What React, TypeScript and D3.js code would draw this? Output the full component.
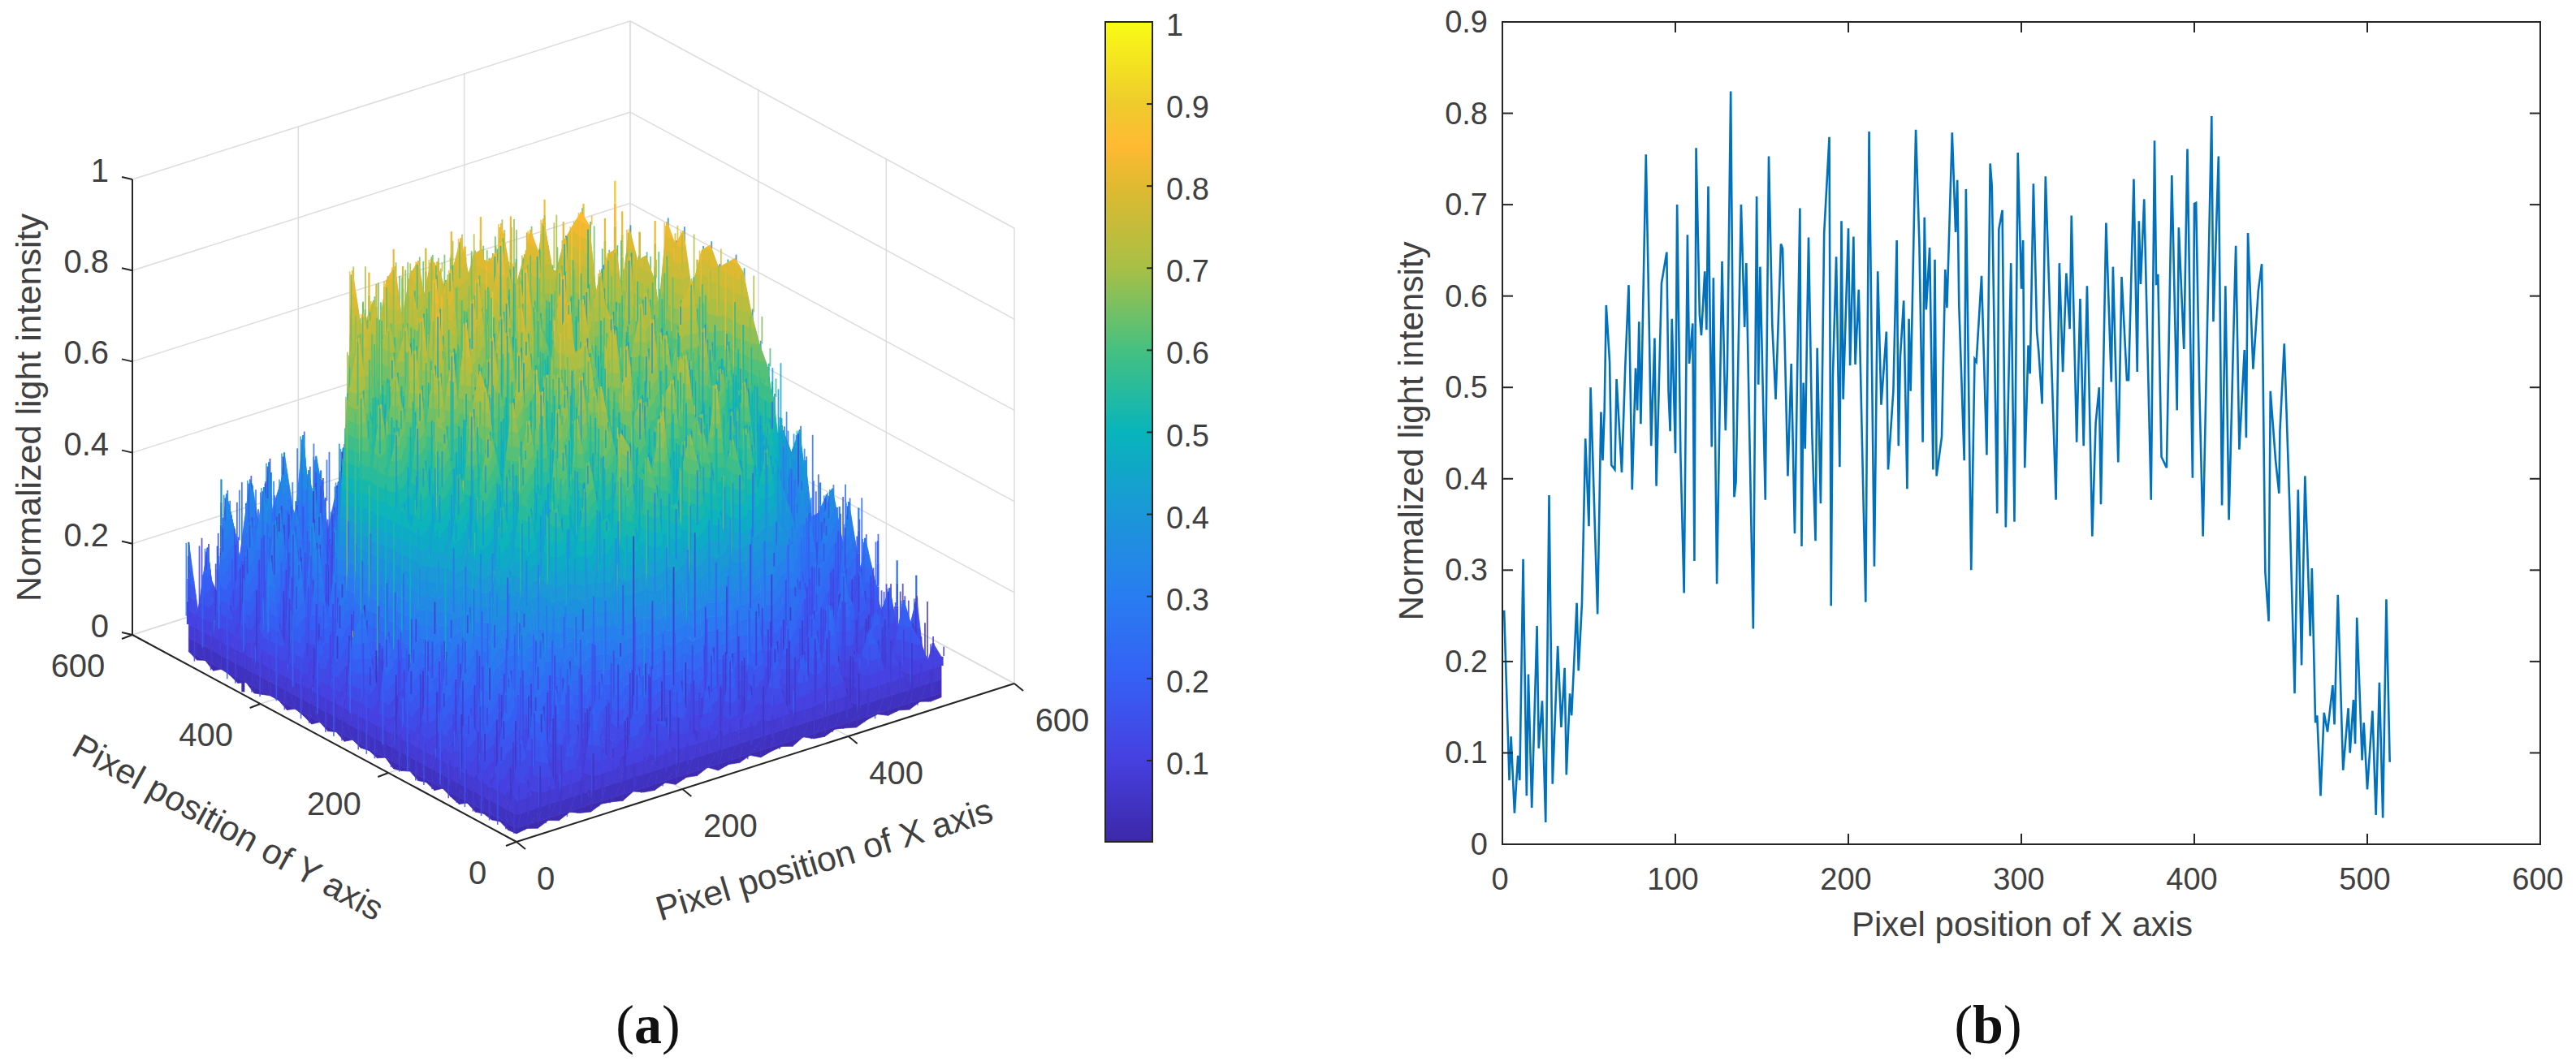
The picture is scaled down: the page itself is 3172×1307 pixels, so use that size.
import React, { useEffect, useRef } from "react";
import * as d3 from "d3";

// (b) line profile, vertices
const lineX = [1,4,5,7,9,10,12,14,15,17,20,21,23,25,27,29,32,34,36,37,39,40,43,44,46,48,50,51,55,57,58,59,60,62,63,65,66,69,71,73,75,77,78,79,80,83,85,86,88,89,91,92,95,96,97,98,100,
  101,103,105,107,108,110,111,112,114,115,117,118,119,121,122,124,127,129,130,132,134,135,138,140,141,142,145,147,148,149,152,154,156,158,161,162,165,167,169,172,173,174,175,177,179,181,182,184,186,189,190,191,193,195,196,197,200,
  201,203,204,206,210,212,215,217,219,222,223,226,228,229,230,232,234,235,236,239,241,243,244,245,247,249,250,251,254,256,257,260,262,263,264,267,268,271,273,274,277,280,282,283,286,287,289,291,294,296,298,300,
  301,302,304,305,307,309,310,312,314,320,322,324,326,328,329,332,334,336,338,341,343,345,346,349,352,353,356,358,361,362,365,367,368,369,371,375,377,378,379,381,384,387,390,391,394,396,399,400,
  401,403,405,410,411,414,416,418,420,423,424,426,429,430,431,434,437,439,441,443,444,447,449,449.5,452,455,458,460,462,464,467,468,470,471,473,475,477,480,481,483,486,489,490,492,493,494,497,498,500,503,505,507,509,511,513];
const lineY = [.256,.07,.118,.034,.097,.07,.312,.053,.186,.04,.239,.105,.157,.024,.382,.066,.217,.128,.193,.076,.165,.141,.264,.19,.264,.444,.348,.5,.252,.473,.42,.475,.59,.528,.415,.41,.509,.407,.522,.612,.388,.521,.475,.572,.46,.755,.551,.436,.554,.392,.538,.614,.648,.496,.452,.575,.428,
  .7,.426,.275,.667,.526,.57,.31,.762,.58,.557,.627,.563,.72,.435,.62,.285,.638,.453,.52,.824,.38,.396,.7,.566,.636,.533,.236,.709,.503,.632,.377,.753,.568,.487,.657,.652,.403,.526,.34,.696,.326,.505,.433,.664,.45,.332,.543,.373,.669,.774,.261,.51,.643,.413,.682,.487,.674,
  .524,.665,.525,.607,.265,.78,.304,.627,.481,.561,.41,.496,.661,.436,.533,.595,.389,.575,.496,.782,.66,.44,.686,.585,.653,.41,.64,.403,.446,.629,.587,.779,.67,.727,.589,.42,.717,.3,.531,.528,.622,.426,.745,.72,.362,.673,.694,.347,.636,.353,.757,.608,
  .661,.412,.546,.515,.723,.561,.54,.482,.731,.377,.636,.517,.625,.564,.688,.44,.597,.436,.611,.337,.461,.5,.372,.68,.506,.632,.418,.621,.508,.508,.728,.517,.682,.613,.706,.377,.77,.612,.624,.424,.412,.732,.475,.675,.542,.761,.401,.701,
  .702,.494,.337,.797,.572,.753,.371,.611,.355,.583,.655,.432,.541,.445,.669,.52,.606,.635,.298,.244,.496,.42,.384,.452,.548,.376,.165,.388,.196,.403,.228,.302,.133,.141,.053,.144,.123,.174,.131,.273,.081,.149,.1,.158,.11,.248,.092,.133,.06,.146,.032,.177,.029,.268,.09];

const lineXTicks = [0,100,200,300,400,500,600];
const lineYTicks = [0,.1,.2,.3,.4,.5,.6,.7,.8,.9];
const surfaceTicks = [0,200,400,600];
const zTicks = [0,.2,.4,.6,.8,1];
const colorbarTicks = [.1,.2,.3,.4,.5,.6,.7,.8,.9,1];

// colormap stops
const colorStops = [0,.1,.2,.3,.4,.5,.6,.7,.8,.85,.9,1];
const colorValues = ["#3c28a8","#4640e0","#3560f5","#287df0","#1b97d8","#08b5bb","#45c080","#a8bf45","#e0ba30","#ffba32","#eecb2c","#f9fb15"];

// (a) surface, heights in percent, estimated on a 41x41 grid: front row first, y = row * 12.8, x = col * 12.8
const surfaceRows = [
[8,12,5,15,7,18,9,4,14,11,6,19,10,7,16,5,13,9,20,6,12,8,17,5,11,14,7,21,9,6,15,10,4,13,18,8,12,6,16,9,11],
[6,14,9,20,5,11,16,8,22,7,13,4,18,10,15,6,21,12,7,17,9,24,5,14,11,19,6,13,8,23,10,16,5,12,20,7,15,9,18,4,13],
[15,7,19,10,24,6,13,17,5,21,9,14,8,26,11,4,16,20,7,12,25,6,15,10,18,8,22,5,13,17,9,27,11,6,14,19,7,12,23,10,6],
[9,18,6,13,22,8,26,11,16,6,20,12,28,7,15,23,9,18,5,27,13,10,21,7,16,30,8,14,24,6,19,11,25,9,13,5,20,16,8,12,21],
[13,5,22,16,7,25,10,19,29,8,14,24,11,31,17,6,38,30,44,28,50,33,42,36,30,28,10,18,6,27,14,23,8,17,30,11,6,19,14,7,10],
[7,19,11,26,14,8,30,16,9,25,33,12,21,35,42,52,38,60,40,55,36,62,44,50,38,58,42,23,34,13,26,10,21,15,7,24,18,9,13,22,8],
[17,9,23,6,28,12,20,34,11,29,18,38,40,52,36,60,44,66,38,54,46,68,42,58,36,64,48,56,40,37,19,28,14,25,10,18,7,26,11,16,12],
[5,21,12,30,9,18,35,14,27,39,36,48,62,38,54,44,68,42,58,72,46,60,40,66,50,56,38,64,48,58,42,36,24,12,29,9,22,14,8,20,10],
[11,16,7,24,31,15,22,38,29,40,58,46,38,66,52,44,70,40,60,50,72,46,64,42,58,74,50,38,62,44,54,36,33,26,15,27,16,24,13,30,19],
[20,8,26,13,19,36,28,16,48,38,56,36,52,42,62,48,40,64,46,54,38,62,50,42,66,44,54,58,36,50,40,48,38,37,22,13,31,14,33,15,24],
[6,23,14,33,10,27,41,44,36,56,42,50,62,44,54,38,64,48,42,58,50,66,40,56,46,60,36,52,64,42,56,40,50,42,34,18,26,33,16,36,21],
[14,10,28,8,37,18,30,50,42,60,46,38,56,66,42,58,50,68,52,44,62,40,66,50,56,38,64,46,58,42,68,40,54,46,28,36,34,14,38,18,26],
[8,25,16,30,12,22,48,38,56,44,64,50,40,62,48,70,54,42,66,56,50,70,44,58,72,48,62,42,68,52,46,64,40,56,44,15,38,22,13,37,24],
[19,6,21,11,34,26,44,58,42,50,38,66,56,46,72,50,62,42,74,54,46,64,58,40,68,52,75,56,44,64,42,60,50,40,52,23,24,40,18,30,13],
[10,24,13,29,7,48,42,50,64,40,60,48,70,52,44,66,56,76,48,62,40,72,54,66,44,60,52,70,42,58,68,48,62,46,50,58,36,15,42,20,33],
[5,17,27,9,36,44,52,38,56,68,48,42,62,56,74,44,68,50,60,70,54,46,78,42,64,56,48,72,60,50,44,66,46,58,42,62,40,20,34,12,28],
[22,11,6,32,42,50,38,60,46,40,66,54,72,46,62,52,48,71,42,66,58,50,60,73,46,68,42,56,64,46,75,40,62,52,48,58,62,44,20,46,26],
[9,28,15,12,50,44,56,42,52,71,44,62,50,68,42,76,56,62,50,46,75,58,44,66,54,48,79,50,60,42,58,70,46,68,44,54,66,42,26,40,32],
[16,7,24,21,48,56,42,64,44,56,48,74,54,42,70,50,60,46,72,60,42,68,52,78,46,64,58,42,73,54,48,64,55,46,60,52,72,36,22,44,24],
[12,20,9,16,52,40,60,44,66,48,42,60,70,46,54,78,44,66,50,56,71,48,62,42,76,50,56,69,46,60,72,44,58,66,42,56,80,46,22,42,28],
[25,31,3,17,50,41,52,39,67,58,44,64,75,53,45,51,61,45,53,69,63,72,74,36,72,38,44,37,62,71,41,76,80,58,60,48,82,30,38,16,27],
[7,15,22,11,56,66,50,66,48,75,55,46,66,52,80,48,62,73,50,68,46,79,55,62,48,72,44,66,77,52,58,46,70,54,64,68,80,48,34,18,30],
[18,5,13,26,60,50,64,52,72,46,64,78,50,68,44,74,56,50,76,54,64,47,81,52,69,58,75,46,60,72,46,67,50,73,56,70,78,28,40,21,18],
[10,23,8,19,54,70,46,68,48,58,74,48,60,82,54,64,44,77,58,70,52,63,74,45,79,50,60,70,54,48,76,62,46,58,72,56,82,34,16,38,25],
[21,12,28,7,72,52,64,46,62,78,52,68,46,64,76,50,71,56,48,80,60,52,67,84,55,64,46,74,58,68,46,72,55,62,76,72,80,38,14,27,16],
[6,18,14,31,20,60,56,58,72,48,66,55,83,50,60,72,46,66,78,54,72,60,48,74,62,46,78,52,65,56,82,50,68,58,78,84,38,17,33,11,30],
[15,9,26,11,24,66,58,50,62,50,76,46,65,72,54,50,82,61,52,70,47,85,64,54,76,58,48,70,79,48,62,56,46,74,60,80,24,35,13,28,18],
[24,13,6,20,34,68,80,62,50,68,46,60,80,52,70,62,46,75,63,56,78,52,66,72,48,81,62,52,58,73,52,66,55,78,60,84,35,18,26,12,34],
[8,29,16,35,12,27,60,64,58,44,72,54,62,50,86,56,69,52,83,60,68,50,79,55,67,60,75,50,70,46,60,80,56,76,62,40,15,30,37,20,14],
[19,11,32,9,24,18,36,66,82,62,48,68,76,58,66,50,80,60,64,74,54,88,60,50,72,55,65,84,52,62,50,78,62,82,36,22,33,9,25,31,17],
[33,7,21,14,38,10,26,50,64,76,60,46,64,56,74,64,52,84,56,70,62,77,52,81,58,68,52,62,70,56,84,60,72,66,16,30,12,36,21,11,27],
[13,27,10,36,17,28,8,34,55,68,78,58,74,62,54,70,60,78,64,58,72,58,83,56,66,62,80,52,74,58,86,64,72,28,34,10,24,18,33,14,22],
[6,22,38,12,29,15,31,11,26,70,62,76,70,56,66,78,56,74,62,68,66,54,80,62,76,58,84,66,74,60,82,70,31,18,8,27,16,38,12,24,30],
[26,11,18,33,7,24,13,35,16,9,86,70,78,62,84,66,72,58,82,68,76,64,80,62,86,68,74,60,84,70,78,24,18,34,13,30,9,19,34,15,12],
[9,30,14,24,37,10,28,19,6,33,14,26,72,66,80,62,74,82,66,78,70,84,72,80,64,82,68,76,70,13,21,36,10,16,28,8,24,36,13,26,21],
[17,8,35,13,21,31,6,25,38,12,22,8,29,15,60,74,66,78,62,80,64,76,70,78,66,74,62,9,20,36,15,6,24,31,11,20,39,13,29,9,16],
[28,15,10,26,40,9,19,33,11,27,6,36,17,24,7,31,50,62,52,70,58,72,55,64,50,37,12,28,17,10,33,21,14,8,38,25,12,30,16,23,8],
[7,33,19,8,16,35,12,24,7,39,18,10,30,6,37,15,26,8,32,20,6,38,14,25,9,17,32,11,27,39,7,22,33,13,20,8,30,15,6,34,16],
[22,12,38,27,9,18,42,8,30,15,25,34,9,40,20,12,35,24,7,36,16,28,10,41,19,30,6,36,13,20,26,9,37,16,28,11,25,7,32,10,19],
[11,26,6,34,21,38,14,29,36,10,44,17,28,6,33,38,9,22,43,13,30,37,18,8,34,12,26,38,21,7,35,15,24,8,31,18,36,9,21,29,6],
[27,9,18,12,30,7,35,20,11,40,24,8,37,19,29,12,42,16,26,34,9,39,21,31,13,36,6,24,33,17,10,28,38,14,22,7,30,18,11,26,20],
];
const surfaceStep = 12.8;
const bandStep = 0.03;

// thin spikes standing on the silhouette of the surface, read along the rim and the outer edge
const spikeX = [86,96,106,121,136,151,166,181,196,211,226,241,256,271,286,301,316,331,346,361,376,391,406,412,416,426,434,441,446,450,453,454,454,454,452,448,444,438,
  30,60,90,120,150,180,10,10,505,505,505,505,505,505,505,505,505,505];
const spikeY = [366,386,396,406,416,426,434,441,446,451,453,454,454,453,451,446,442,438,432,424,414,402,388,380,374,360,346,331,316,301,286,271,256,236,216,196,176,156,
  500,500,500,500,500,500,480,440,300,270,240,210,180,150,120,90,60,30];
const spikeZ = [.66,.68,.72,.78,.79,.84,.8,.78,.85,.8,.76,.82,.78,.84,.8,.86,.79,.85,.81,.88,.83,.87,.84,.925,.86,.82,.85,.8,.83,.79,.82,.76,.78,.72,.7,.66,.62,.56,
  .4,.33,.38,.3,.35,.28,.28,.24,.42,.38,.44,.4,.36,.33,.35,.3,.28,.27];

const sans = "'Liberation Sans', Arial, sans-serif";
const serif = "'Liberation Serif', serif";
const textGray = "#404040";
const axisDark = "#262626";
const gridGray = "#dcdcdc";

type V3 = [number, number, number];

// keep the part of a polygon on one side of a height level
function clipZ(poly: V3[], level: number, keepAbove: boolean): V3[] {
  const out: V3[] = [];
  poly.forEach((p, k) => {
    const q = poly[(k + 1) % poly.length];
    const pIn = keepAbove ? p[2] >= level : p[2] <= level;
    const qIn = keepAbove ? q[2] >= level : q[2] <= level;
    if (pIn) out.push(p);
    if (pIn !== qIn) {
      const t = (level - p[2]) / (q[2] - p[2]);
      out.push([p[0] + t * (q[0] - p[0]), p[1] + t * (q[1] - p[1]), level]);
    }
  });
  return out;
}

export default function App() {
  const ref = useRef<SVGSVGElement>(null);

  useEffect(() => {
    const svg = d3.select(ref.current);
    svg.selectAll("*").remove();

    const defs = svg.append("defs");
    defs.append("filter").attr("id", "soft").append("feGaussianBlur").attr("stdDeviation", 0.7);

    const color = d3.scaleLinear<string>().domain(colorStops).range(colorValues).clamp(true);

    const label = (x: number, y: number, text: string, size: number, anchor = "middle", rotate = 0) =>
      svg
        .append("text")
        .attr("transform", `translate(${x},${y}) rotate(${rotate})`)
        .attr("text-anchor", anchor)
        .attr("font-family", sans)
        .attr("font-size", size)
        .attr("fill", textGray)
        .text(text);

    const panelTag = (x: number, y: number, letter: string) => {
      const t = svg
        .append("text")
        .attr("x", x)
        .attr("y", y)
        .attr("text-anchor", "middle")
        .attr("font-family", serif)
        .attr("font-size", 68)
        .attr("fill", "#111");
      t.append("tspan").text("(");
      t.append("tspan").attr("font-weight", "bold").text(letter);
      t.append("tspan").text(")");
    };

    // ---- (a) 3D surface ----
    const originX = 636;
    const originY = 1037;
    const xToPx = d3.scaleLinear().domain([0, 600]).range([0, 613]);
    const xToPy = d3.scaleLinear().domain([0, 600]).range([0, -195]);
    const yToPx = d3.scaleLinear().domain([0, 600]).range([0, -473]);
    const yToPy = d3.scaleLinear().domain([0, 600]).range([0, -255]);
    const zToPy = d3.scaleLinear().domain([0, 1]).range([0, -561]);
    const project = (x: number, y: number, z: number): [number, number] => [
      originX + xToPx(x) + yToPx(y),
      originY + xToPy(x) + yToPy(y) + zToPy(z),
    ];

    const seg = (g: any, a: [number, number], b: [number, number], stroke: string, width: number) =>
      g
        .append("line")
        .attr("x1", a[0])
        .attr("y1", a[1])
        .attr("x2", b[0])
        .attr("y2", b[1])
        .attr("stroke", stroke)
        .attr("stroke-width", width);

    // box grid on floor and back walls
    const grid = svg.append("g");
    zTicks.forEach((z) => {
      seg(grid, project(0, 600, z), project(600, 600, z), gridGray, 1.5);
      seg(grid, project(600, 600, z), project(600, 0, z), gridGray, 1.5);
    });
    surfaceTicks.forEach((t) => {
      seg(grid, project(t, 600, 0), project(t, 600, 1), gridGray, 1.5);
      seg(grid, project(600, t, 0), project(600, t, 1), gridGray, 1.5);
      seg(grid, project(t, 0, 0), project(t, 600, 0), gridGray, 1.5);
      seg(grid, project(0, t, 0), project(600, t, 0), gridGray, 1.5);
    });

    // axes lines
    const axes = svg.append("g");
    seg(axes, project(0, 0, 0), project(600, 0, 0), axisDark, 2);
    seg(axes, project(0, 0, 0), project(0, 600, 0), axisDark, 2);
    seg(axes, project(0, 600, 0), project(0, 600, 1), axisDark, 2);
    surfaceTicks.forEach((t) => {
      const a = project(t, 0, 0);
      const b = project(0, t, 0);
      seg(axes, a, [a[0] + 11, a[1] + 9], axisDark, 2);
      seg(axes, b, [b[0] - 13, b[1] + 5], axisDark, 2);
    });
    zTicks.forEach((z) => {
      const a = project(0, 600, z);
      seg(axes, a, [a[0] - 13, a[1] - 3], axisDark, 2);
    });

    // surface, painted back to front, each facet sliced in height bands for the colormap
    const surf = svg.append("g").attr("filter", "url(#soft)");
    const rows = surfaceRows.length;
    const cols = d3.min(surfaceRows, (r) => r.length) as number;
    const h = (i: number, j: number) => surfaceRows[j][i] / 100;
    const v = (i: number, j: number, z = h(i, j)): V3 => [i * surfaceStep, j * surfaceStep, z];
    const edgeLow = (i: number, j: number) => Math.min(0.03, 0.01 + h(i, j) * 0.1);
    const path2 = d3.line();

    const drawBar = (x: number, y: number, low: number, top: number, w0: number, w1: number) => {
      const zs = d3.range(low, top, 0.05).concat(top);
      for (let k = 0; k < zs.length - 1; k++) {
        const frac = top > low ? (zs[k] - low) / (top - low) : 1;
        seg(surf, project(x, y, zs[k]), project(x, y, zs[k + 1]), color((zs[k] + zs[k + 1]) / 2), w1 + (w0 - w1) * (1 - frac));
      }
    };

    spikeX.forEach((sx, k) => {
      drawBar(sx, spikeY[k], spikeZ[k] - 0.25, spikeZ[k], 4, 1.8);
    });

    const shade = (tri: V3[]) => {
      const zs = tri.map((p) => p[2]);
      const lo = Math.floor((d3.min(zs) as number) / bandStep);
      const hi = Math.ceil((d3.max(zs) as number) / bandStep);
      for (let b = lo; b < hi; b++) {
        const part = clipZ(clipZ(tri, b * bandStep, true), (b + 1) * bandStep, false);
        if (part.length < 3) continue;
        const c = color((b + 0.5) * bandStep);
        surf
          .append("path")
          .attr("d", path2(part.map((p) => project(p[0], p[1], p[2]))) + "Z")
          .attr("fill", c)
          .attr("stroke", c)
          .attr("stroke-width", 0.7);
      }
    };

    const skirt = (i0: number, j0: number, i1: number, j1: number) => {
      const lowA = v(i0, j0, edgeLow(i0, j0));
      const lowB = v(i1, j1, edgeLow(i1, j1));
      shade([lowA, lowB, v(i1, j1)]);
      shade([lowA, v(i1, j1), v(i0, j0)]);
    };

    // thin vertical streak in one flat colour, stands out against the height colours around it
    const streak = (x: number, y: number, z0: number, z1: number, c: string, width: number) => {
      if (Math.abs(z1 - z0) < 0.02) return;
      seg(surf, project(x, y, z0), project(x, y, z1), c, width).attr("stroke-opacity", 0.85);
    };

    for (let j = rows - 1; j >= 0; j--) {
      for (let i = cols - 1; i >= 0; i--) {
        if (i < cols - 1 && j < rows - 1) {
          shade([v(i, j), v(i + 1, j), v(i + 1, j + 1)]);
          shade([v(i, j), v(i + 1, j + 1), v(i, j + 1)]);
          // streak in the middle of the cell, its colour taken from a corner
          const cx = (i + 0.5) * surfaceStep;
          const cy = (j + 0.5) * surfaceStep;
          streak(cx, cy, Math.min(h(i, j), h(i + 1, j + 1)), Math.max(h(i, j), h(i + 1, j + 1)), color(h(i + 1, j)), 1.8);
        }
        if (j === 0 && i < cols - 1) skirt(i, 0, i + 1, 0);
        if (i === 0 && j < rows - 1) skirt(0, j, 0, j + 1);

        // spike from the lowest neighbour up to the node, tapering toward its tip
        const top = h(i, j);
        const low = Math.min(
          top,
          i > 0 ? h(i - 1, j) : top,
          j > 0 ? h(i, j - 1) : top,
          i < cols - 1 ? h(i + 1, j) : top,
          j < rows - 1 ? h(i, j + 1) : top
        );
        const high = Math.max(
          top,
          i > 0 ? h(i - 1, j) : top,
          i < cols - 1 ? h(i + 1, j) : top,
          j < rows - 1 ? h(i, j + 1) : top
        );
        drawBar(i * surfaceStep, j * surfaceStep, low, top, 5, 1.6);
        // dark line up from a trough and a bright line down from a peak
        streak(i * surfaceStep + 3, j * surfaceStep, top, Math.min(high, top + 0.18), color(top), 1.8);
        streak(i * surfaceStep - 3, j * surfaceStep, Math.max(0.02, top - 0.16), top, color(top), 1.6);
      }
    }

    // surface tick labels
    surfaceTicks.forEach((t) => {
      const a = project(t, 0, 0);
      const b = project(0, t, 0);
      label(a[0] + (t === 0 ? 36 : 59), a[1] + 59, String(t), 40);
      label(b[0] + (t === 0 ? -48 : -67), b[1] + 52, String(t), 40);
    });
    zTicks.forEach((z) => {
      const a = project(0, 600, z);
      label(134, a[1] + 3, String(z), 40, "end");
    });
    label(1019, 1073, "Pixel position of X axis", 43, "middle", -16.7);
    label(274, 1032, "Pixel position of Y axis", 43, "middle", 28.8);
    label(50, 502, "Normalized light intensity", 43, "middle", -90);

    // colorbar
    const barY = d3.scaleLinear().domain([0.001, 1]).range([1037, 27]);
    const grad = defs
      .append("linearGradient")
      .attr("id", "parula")
      .attr("x1", 0)
      .attr("y1", 1)
      .attr("x2", 0)
      .attr("y2", 0);
    colorStops.forEach((s, i) => grad.append("stop").attr("offset", s).attr("stop-color", colorValues[i]));
    svg
      .append("rect")
      .attr("x", 1361)
      .attr("y", 27)
      .attr("width", 58)
      .attr("height", 1010)
      .attr("fill", "url(#parula)")
      .attr("stroke", axisDark)
      .attr("stroke-width", 2);
    colorbarTicks.forEach((t) => {
      seg(svg, [1412, barY(t)], [1419, barY(t)], axisDark, 2);
      label(1436, barY(t) + 17, String(t), 38, "start");
    });
    panelTag(798, 1285, "a");

    // ---- (b) line profile ----
    const x = d3.scaleLinear().domain([0, 600]).range([1850, 3128]);
    const y = d3.scaleLinear().domain([0, 0.9]).range([1040, 27]);

    svg
      .append("path")
      .attr("filter", "url(#soft)")
      .attr(
        "d",
        d3
          .line<number>()
          .x((d) => x(d))
          .y((_, i) => y(lineY[i]))(lineX)
      )
      .attr("fill", "none")
      .attr("stroke", "#0072BD")
      .attr("stroke-width", 2.6);

    svg
      .append("rect")
      .attr("x", 1850)
      .attr("y", 27)
      .attr("width", 1278)
      .attr("height", 1013)
      .attr("fill", "none")
      .attr("stroke", axisDark)
      .attr("stroke-width", 2);

    lineXTicks.forEach((t) => {
      if (t !== 0 && t !== 600) {
        seg(svg, [x(t), 1040], [x(t), 1027], axisDark, 2);
        seg(svg, [x(t), 27], [x(t), 40], axisDark, 2);
      }
      label(x(t) - 3, 1096, String(t), 38);
    });
    lineYTicks.forEach((t) => {
      if (t !== 0 && t !== 0.9) {
        seg(svg, [1850, y(t)], [1863, y(t)], axisDark, 2);
        seg(svg, [3128, y(t)], [3115, y(t)], axisDark, 2);
      }
      label(1832, y(t) + 13, String(t), 38, "end");
    });
    label(2490, 1153, "Pixel position of X axis", 42);
    label(1752, 531, "Normalized light intensity", 42, "middle", -90);
    panelTag(2448, 1285, "b");
  }, []);

  return (
    <svg
      ref={ref}
      width={3172}
      height={1307}
      style={{ position: "absolute", left: 0, top: 0, background: "#fff" }}
    />
  );
}
